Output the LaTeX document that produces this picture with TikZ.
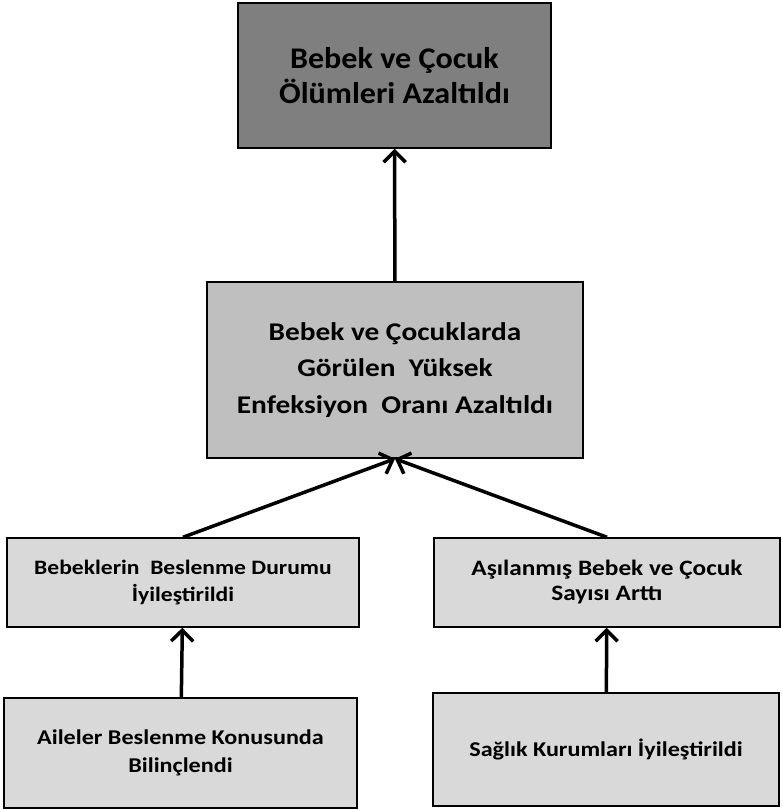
\documentclass[tikz,border=0pt]{standalone}
\usepackage{fontspec}
\setmainfont{Carlito}
\newfontfamily\topfont{Carlito}[FakeStretch=1.07]
\newfontfamily\widefont{Carlito}[FakeStretch=1.15]
\usetikzlibrary{arrows.meta,positioning}

\definecolor{darkbox}{HTML}{7F7F7F}
\definecolor{midbox}{HTML}{BFBFBF}
\definecolor{lightbox}{HTML}{D9D9D9}

\begin{document}
\begin{tikzpicture}
	[x=1pt,y=-1pt,
	goal node/.style={shape=rectangle,draw,line width=1.5pt,align=center,inner sep=0pt},
	up arrow/.style={line width=3.5pt,-{Straight Barb[length=11pt,width=22pt,line width=3.5pt]}}]
	\useasboundingbox (0,0) rectangle (781,810);
	\node [goal node,fill=darkbox,minimum width=313pt,minimum height=145pt,font=\topfont\fontsize{30}{35}\selectfont\bfseries] (top) at (394.5,75.5) {Bebek ve Çocuk\\Ölümleri Azaltıldı};
	\node [goal node,fill=midbox,minimum width=376pt,minimum height=176pt,font=\widefont\fontsize{25.5}{36.5}\selectfont\bfseries] (mid) at (395,370) {Bebek ve Çocuklarda\\Görülen~ Yüksek\\Enfeksiyon~ Oranı Azaltıldı};
	\node [goal node,fill=lightbox,minimum width=352pt,minimum height=89pt,font=\widefont\fontsize{20.5}{26.5}\selectfont\bfseries] (beslenme) at (183,582.5) {Bebeklerin~ Beslenme Durumu\\İyileştirildi};
	\node [goal node,fill=lightbox,minimum width=346pt,minimum height=89pt,font=\widefont\fontsize{22}{25}\selectfont\bfseries] (asi) at (607,582.5) {Aşılanmış Bebek ve Çocuk\\Sayısı Arttı};
	\node [goal node,fill=lightbox,minimum width=353pt,minimum height=110pt,font=\widefont\fontsize{21}{28}\selectfont\bfseries] (aile) at (180.5,753) {Aileler Beslenme Konusunda\\Bilinçlendi};
	\node [goal node,fill=lightbox,minimum width=346pt,minimum height=113pt,font=\widefont\fontsize{21}{28}\selectfont\bfseries] (saglik) at (606,749.5) {Sağlık Kurumları İyileştirildi};
	
	
	\path[up arrow]
	(mid) edge (top)
	(beslenme.north) edge (mid.south)
	(asi.north) edge (mid.south)
	(aile) edge (beslenme)
	(saglik) edge (asi)
	
	;
	
\end{tikzpicture}
\end{document}
